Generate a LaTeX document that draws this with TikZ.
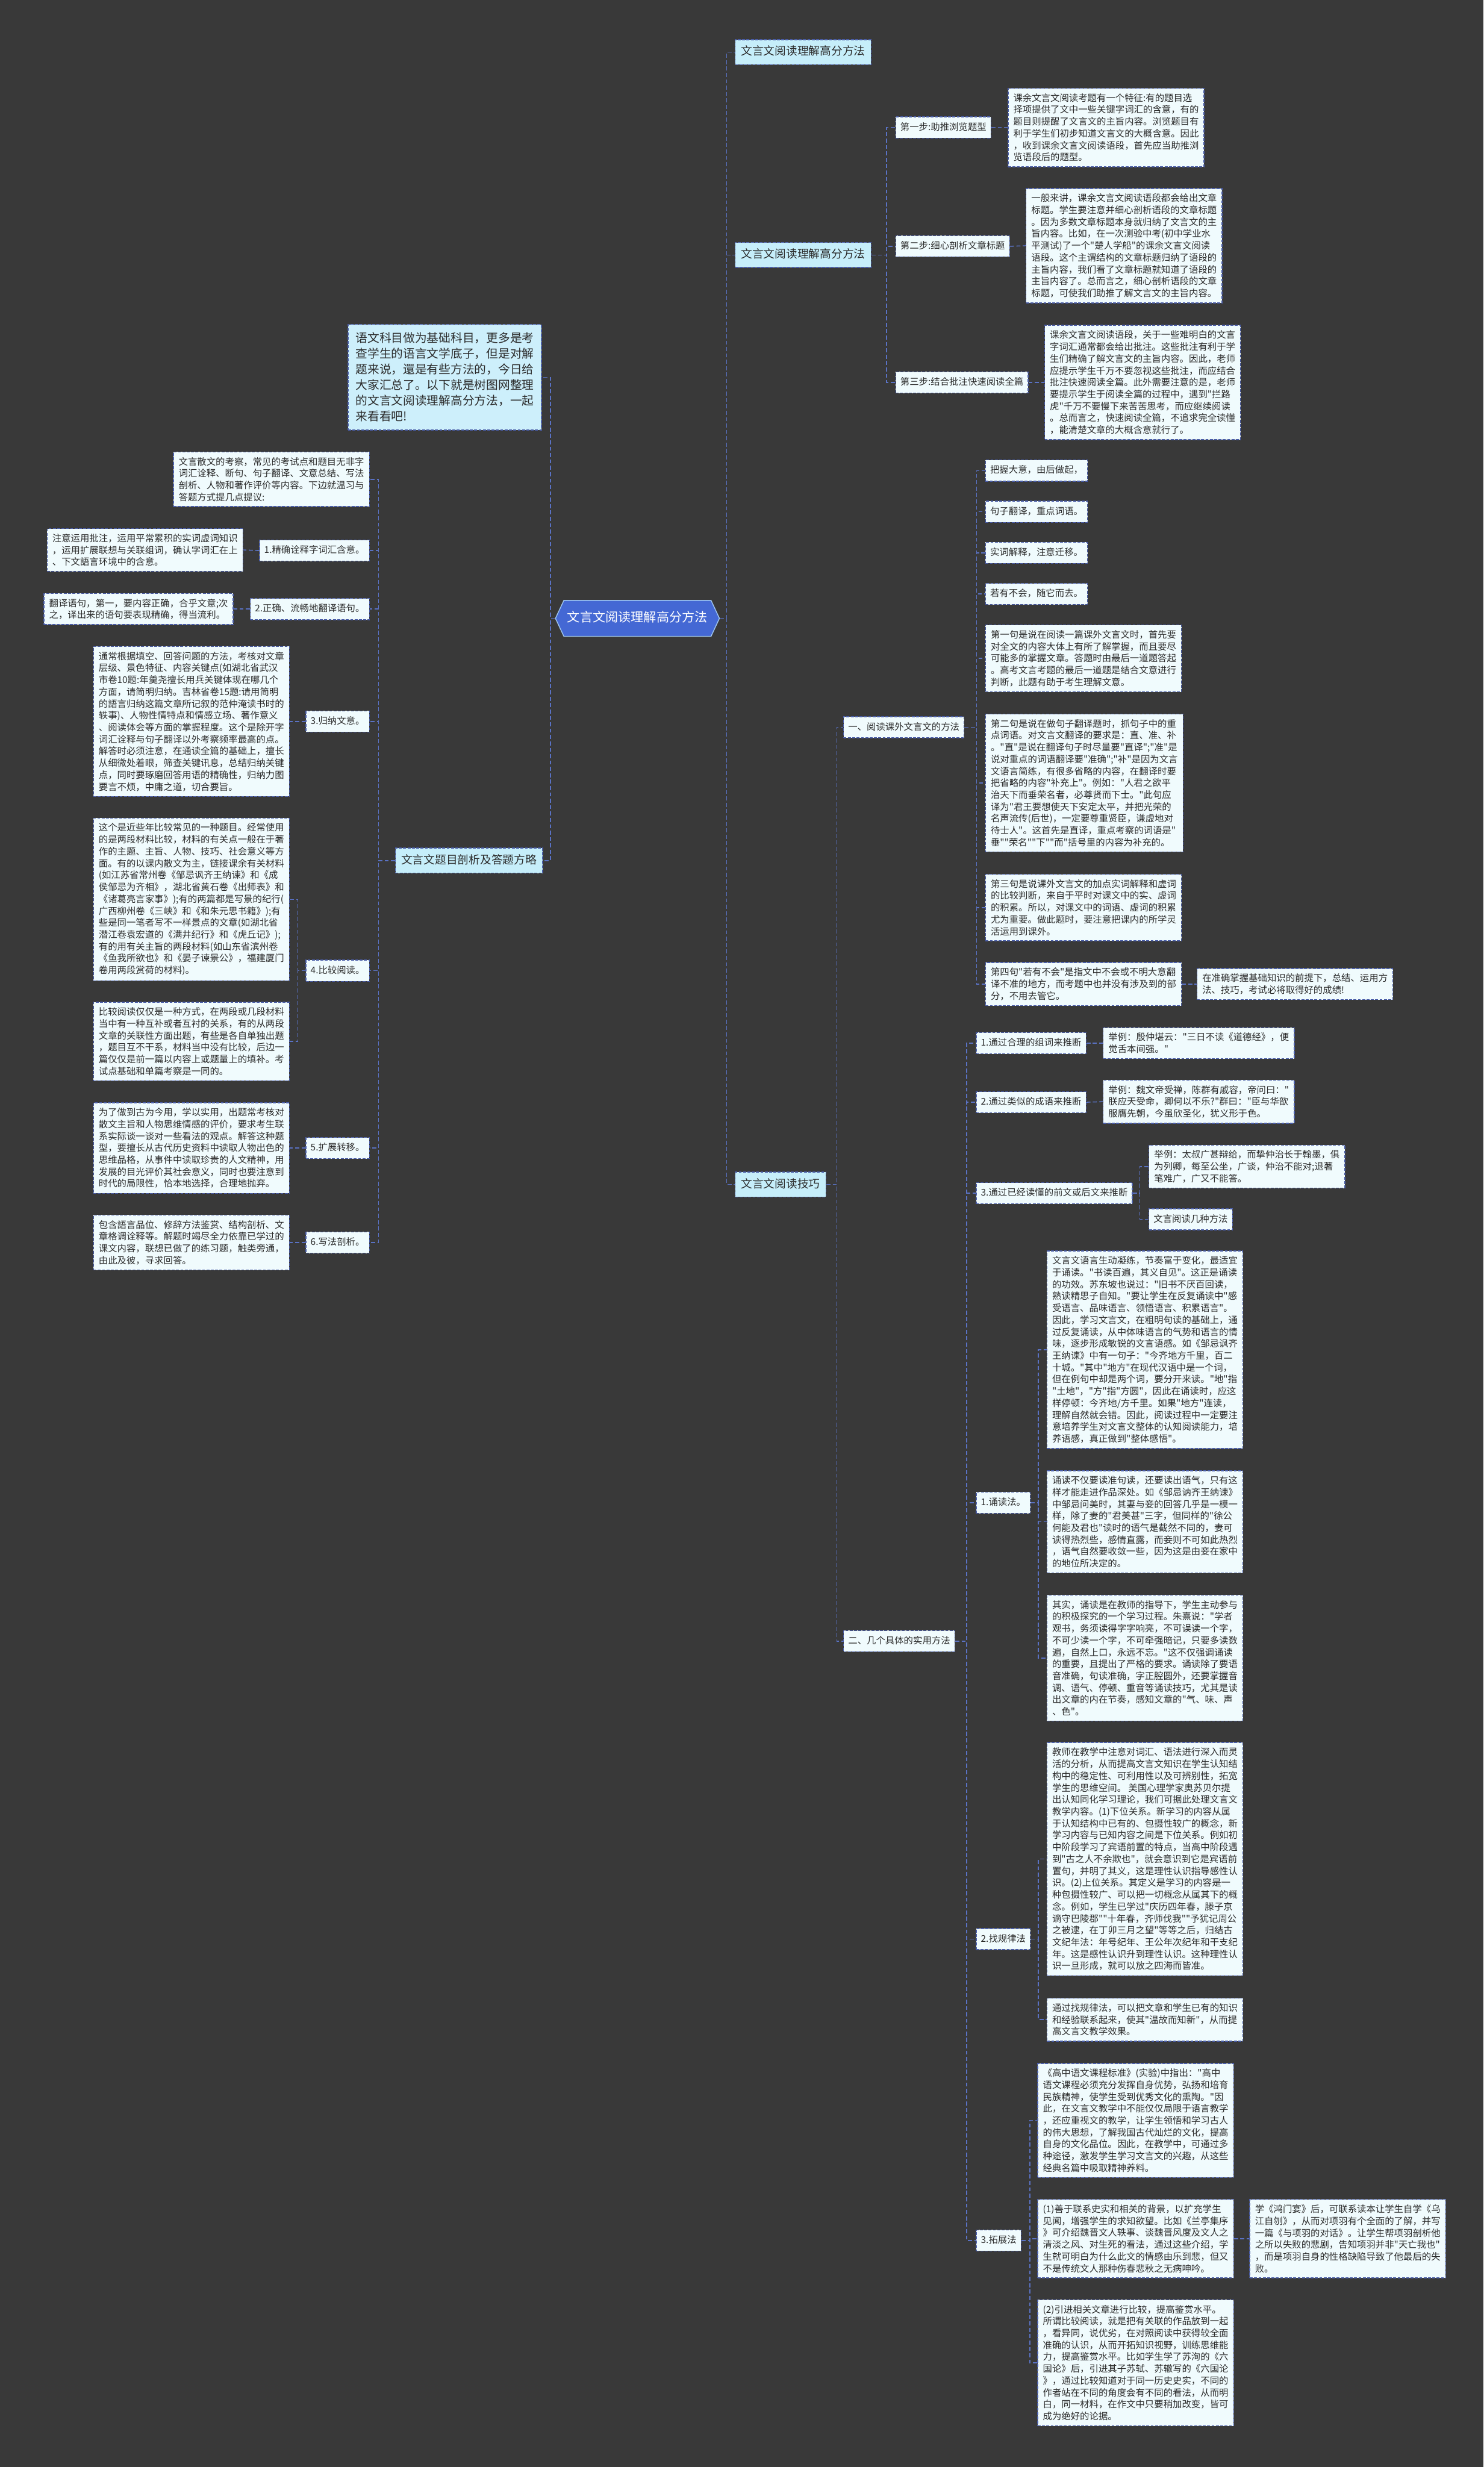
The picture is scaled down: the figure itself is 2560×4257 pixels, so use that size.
\documentclass[tikz,border=0pt]{standalone}
\usepackage{fontspec}
\setmainfont{Noto Sans CJK SC}[Ligatures=TeXOff]
\usetikzlibrary{shapes.symbols}
\definecolor{bgc}{HTML}{393939}
\definecolor{boxf}{HTML}{F0FBFD}
\definecolor{bordc}{HTML}{4A5DA8}
\definecolor{connc}{HTML}{5A72C4}
\definecolor{hdrf}{HTML}{C6EEFA}
\definecolor{introf}{HTML}{CDEFFB}
\definecolor{txt}{HTML}{2B2B2B}
\definecolor{cenf}{HTML}{4468D4}
\newcommand\elbowR[3]{\draw[conn] (#1.east) -- (#1.east -| #3) |- (#2.west);}
\newcommand\elbowL[3]{\draw[conn] (#1.west) -- (#1.west -| #3) |- (#2.east);}
\tikzset{
  tbox/.style={draw=bordc, fill=boxf, line width=1.4pt, dash pattern=on 5pt off 2.5pt,
    inner xsep=9pt, inner ysep=9pt, align=left, font=\fontsize{16}{20.5}\selectfont, text=txt},
  lbl/.style={tbox, inner xsep=8pt, inner ysep=10pt, text height=13pt, text depth=3.5pt},
  hdr/.style={draw=bordc, fill=hdrf, line width=1.4pt, dash pattern=on 5pt off 2.5pt,
    inner xsep=10pt, inner ysep=12pt, font=\fontsize{19.5}{24}\selectfont, text=txt,
    text height=15pt, text depth=4pt},
  intro/.style={draw=bordc, fill=introf, line width=1.4pt, dash pattern=on 5pt off 2.5pt,
    inner xsep=13pt, inner ysep=14pt, align=left, font=\fontsize{20.5}{27}\selectfont, text=txt},
  cen/.style={signal, signal to=west and east, signal pointer angle=130, draw=hdrf!70!cenf,
    line width=1.5pt, fill=cenf, text=white, font=\fontsize{22}{26}\selectfont,
    inner xsep=6pt, inner ysep=20pt, text height=17pt, text depth=5pt},
  conn/.style={draw=connc, line width=1.6pt, dash pattern=on 7pt off 4pt},
  R/.style={anchor=west}, L/.style={anchor=east}
}
\begin{document}
\begin{tikzpicture}[x=1pt,y=-1pt]
\fill[bgc] (0,0) rectangle (2560,4257);
\useasboundingbox (0,0) rectangle (2560,4257);

% trunk coordinates
\coordinate (tR) at (1254,0);
\coordinate (tH2) at (1530,0);
\coordinate (tH3) at (1444,0);
\coordinate (tA) at (1685,0);
\coordinate (tB) at (1668,0);
\coordinate (tB3) at (1967,0);
\coordinate (tB4) at (1792,0);
\coordinate (tB6) at (1777,0);
\coordinate (tL) at (950,0);
\coordinate (tLH) at (653,0);
\coordinate (tL4) at (514,0);

% center
\node[cen] (c) at (1100,1067) {文言文阅读理解高分方法};

% right headers
\node[hdr,R] (h1) at (1268,90) {文言文阅读理解高分方法};
\node[hdr,R] (h2) at (1268,440) {文言文阅读理解高分方法};
\node[hdr,R] (h3) at (1268,2044) {文言文阅读技巧};

% steps
\node[lbl,R] (s1) at (1545,220) {第一步:助推浏览题型};
\node[tbox,R] (s1t) at (1739,220) {课余文言文阅读考题有一个特征:有的题目选\\择项提供了文中一些关键字词汇的含意，有的\\题目则提醒了文言文的主旨内容。浏览题目有\\利于学生们初步知道文言文的大概含意。因此\\，收到课余文言文阅读语段，首先应当助推浏\\览语段后的题型。};
\node[lbl,R] (s2) at (1545,425) {第二步:细心剖析文章标题};
\node[tbox,R] (s2t) at (1770,424) {一般来讲，课余文言文阅读语段都会给出文章\\标题。学生要注意并细心剖析语段的文章标题\\。因为多数文章标题本身就归纳了文言文的主\\旨内容。比如，在一次测验中考(初中学业水\\平测试)了一个"楚人学船"的课余文言文阅读\\语段。这个主谓结构的文章标题归纳了语段的\\主旨内容，我们看了文章标题就知道了语段的\\主旨内容了。总而言之，细心剖析语段的文章\\标题，可使我们助推了解文言文的主旨内容。};
\node[lbl,R] (s3) at (1545,660) {第三步:结合批注快速阅读全篇};
\node[tbox,R] (s3t) at (1802,660) {课余文言文阅读语段，关于一些难明白的文言\\字词汇通常都会给出批注。这些批注有利于学\\生们精确了解文言文的主旨内容。因此，老师\\应提示学生千万不要忽视这些批注，而应结合\\批注快速阅读全篇。此外需要注意的是，老师\\要提示学生于阅读全篇的过程中，遇到"拦路\\虎"千万不要慢下来苦苦思考，而应继续阅读\\。总而言之，快速阅读全篇，不追求完全读懂\\，能清楚文章的大概含意就行了。};

% section one
\node[lbl,R] (a) at (1455,1255) {一、阅读课外文言文的方法};
\node[lbl,R] (a1) at (1700,812) {把握大意，由后做起，};
\node[lbl,R] (a2) at (1700,883) {句子翻译，重点词语。};
\node[lbl,R] (a3) at (1700,954) {实词解释，注意迁移。};
\node[lbl,R] (a4) at (1700,1025) {若有不会，随它而去。};
\node[tbox,R] (a5) at (1700,1136) {第一句是说在阅读一篇课外文言文时，首先要\\对全文的内容大体上有所了解掌握，而且要尽\\可能多的掌握文章。答题时由最后一道题答起\\。高考文言考题的最后一道题是结合文意进行\\判断，此题有助于考生理解文意。};
\node[tbox,R] (a6) at (1700,1351) {第二句是说在做句子翻译题时，抓句子中的重\\点词语。对文言文翻译的要求是：直、准、补\\。"直"是说在翻译句子时尽量要"直译";"准"是\\说对重点的词语翻译要"准确";"补"是因为文言\\文语言简练，有很多省略的内容，在翻译时要\\把省略的内容"补充上"。例如："人君之欲平\\治天下而垂荣名者，必尊贤而下士。"此句应\\译为"君王要想使天下安定太平，并把光荣的\\名声流传(后世)，一定要尊重贤臣，谦虚地对\\待士人"。这首先是直译，重点考察的词语是"\\垂""荣名""下""而"括号里的内容为补充的。};
\node[tbox,R] (a7) at (1700,1566) {第三句是说课外文言文的加点实词解释和虚词\\的比较判断，来自于平时对课文中的实、虚词\\的积累。所以，对课文中的词语、虚词的积累\\尤为重要。做此题时，要注意把课内的所学灵\\活运用到课外。};
\node[tbox,R] (a8) at (1700,1698) {第四句"若有不会"是指文中不会或不明大意翻\\译不准的地方，而考题中也并没有涉及到的部\\分，不用去管它。};
\node[tbox,R] (a9) at (2065,1698) {在准确掌握基础知识的前提下，总结、运用方\\法、技巧，考试必将取得好的成绩!};

% section two
\node[lbl,R] (b) at (1455,2832) {二、几个具体的实用方法};
\node[lbl,R] (b1) at (1684,1800) {1.通过合理的组词来推断};
\node[tbox,R] (b1x) at (1903,1800) {举例：殷仲堪云："三日不读《道德经》，便\\觉舌本间强。"};
\node[lbl,R] (b2) at (1684,1902) {2.通过类似的成语来推断};
\node[tbox,R] (b2x) at (1903,1901) {举例：魏文帝受禅，陈群有戚容，帝问曰："\\朕应天受命，卿何以不乐?"群曰："臣与华歆\\服膺先朝，今虽欣圣化，犹义形于色。};
\node[lbl,R] (b3) at (1684,2059) {3.通过已经读懂的前文或后文来推断};
\node[tbox,R] (b3x) at (1982,2013) {举例：太叔广甚辩给，而挚仲治长于翰墨，俱\\为列卿，每至公坐，广谈，仲治不能对;退著\\笔难广，广又不能答。};
\node[lbl,R] (b3y) at (1982,2104) {文言阅读几种方法};

\node[lbl,R] (b4) at (1684,2593) {1.诵读法。};
\node[tbox,R] (b4a) at (1806,2329) {文言文语言生动凝练，节奏富于变化，最适宜\\于诵读。"书读百遍，其义自见"。这正是诵读\\的功效。苏东坡也说过："旧书不厌百回读，\\熟读精思子自知。"要让学生在反复诵读中"感\\受语言、品味语言、领悟语言、积累语言"。\\因此，学习文言文，在粗明句读的基础上，通\\过反复诵读，从中体味语言的气势和语言的情\\味，逐步形成敏锐的文言语感。如《邹忌讽齐\\王纳谏》中有一句子："今齐地方千里，百二\\十城。"其中"地方"在现代汉语中是一个词，\\但在例句中却是两个词，要分开来读。"地"指\\"土地"，"方"指"方圆"，因此在诵读时，应这\\样停顿：今齐地/方千里。如果"地方"连读，\\理解自然就会错。因此，阅读过程中一定要注\\意培养学生对文言文整体的认知阅读能力，培\\养语感，真正做到"整体感悟"。};
\node[tbox,R] (b4b) at (1806,2626) {诵读不仅要读准句读，还要读出语气，只有这\\样才能走进作品深处。如《邹忌讷齐王纳谏》\\中邹忌问美时，其妻与妾的回答几乎是一模一\\样，除了妻的"君美甚"三字，但同样的"徐公\\何能及君也"读时的语气是截然不同的，妻可\\读得热烈些，感情直露，而妾则不可如此热烈\\，语气自然要收敛一些，因为这是由妾在家中\\的地位所决定的。};
\node[tbox,R] (b4c) at (1806,2861) {其实，诵读是在教师的指导下，学生主动参与\\的积极探究的一个学习过程。朱熹说："学者\\观书，务须读得字字响亮，不可误读一个字，\\不可少读一个字，不可牵强暗记，只要多读数\\遍，自然上口，永远不忘。"这不仅强调诵读\\的重要，且提出了严格的要求。诵读除了要语\\音准确，句读准确，字正腔圆外，还要掌握音\\调、语气、停顿、重音等诵读技巧，尤其是读\\出文章的内在节奏，感知文章的"气、味、声\\、色"。};

\node[lbl,R] (b5) at (1684,3346) {2.找规律法};
\node[tbox,R] (b5a) at (1806,3208) {教师在教学中注意对词汇、语法进行深入而灵\\活的分析，从而提高文言文知识在学生认知结\\构中的稳定性、可利用性以及可辨别性，拓宽\\学生的思维空间。 美国心理学家奥苏贝尔提\\出认知同化学习理论，我们可据此处理文言文\\教学内容。(1)下位关系。新学习的内容从属\\于认知结构中已有的、包摄性较广的概念，新\\学习内容与已知内容之间是下位关系。例如初\\中阶段学习了宾语前置的特点，当高中阶段遇\\到"古之人不余欺也"，就会意识到它是宾语前\\置句，并明了其义，这是理性认识指导感性认\\识。(2)上位关系。其定义是学习的内容是一\\种包摄性较广、可以把一切概念从属其下的概\\念。例如，学生已学过"庆历四年春，滕子京\\谪守巴陵郡""十年春，齐师伐我""予犹记周公\\之被逮，在丁卯三月之望"等等之后，归结古\\文纪年法：年号纪年、王公年次纪年和干支纪\\年。这是感性认识升到理性认识。这种理性认\\识一旦形成，就可以放之四海而皆准。};
\node[tbox,R] (b5b) at (1806,3485) {通过找规律法，可以把文章和学生已有的知识\\和经验联系起来，使其"温故而知新"，从而提\\高文言文教学效果。};

\node[lbl,R] (b6) at (1684,3866) {3.拓展法};
\node[tbox,R] (b6a) at (1790,3659) {《高中语文课程标准》(实验)中指出："高中\\语文课程必须充分发挥自身优势，弘扬和培育\\民族精神，使学生受到优秀文化的熏陶。"因\\此，在文言文教学中不能仅仅局限于语言教学\\，还应重视文的教学，让学生领悟和学习古人\\的伟大思想，了解我国古代灿烂的文化，提高\\自身的文化品位。因此，在教学中，可通过多\\种途径，激发学生学习文言文的兴趣，从这些\\经典名篇中吸取精神养料。};
\node[tbox,R] (b6b) at (1790,3863) {(1)善于联系史实和相关的背景，以扩充学生\\见闻，增强学生的求知欲望。比如《兰亭集序\\》可介绍魏晋文人轶事、谈魏晋风度及文人之\\清淡之风、对生死的看法，通过这些介绍，学\\生就可明白为什么此文的情感由乐到悲，但又\\不是传统文人那种伤春悲秋之无病呻吟。};
\node[tbox,R] (b6d) at (2156,3863) {学《鸿门宴》后，可联系读本让学生自学《乌\\江自刎》，从而对项羽有个全面的了解，并写\\一篇《与项羽的对话》。让学生帮项羽剖析他\\之所以失败的悲剧，告知项羽并非"天亡我也"\\，而是项羽自身的性格缺陷导致了他最后的失\\败。};
\node[tbox,R] (b6c) at (1790,4077) {(2)引进相关文章进行比较，提高鉴赏水平。\\所谓比较阅读，就是把有关联的作品放到一起\\，看异同，说优劣，在对照阅读中获得较全面\\准确的认识，从而开拓知识视野，训练思维能\\力，提高鉴赏水平。比如学生学了苏洵的《六\\国论》后，引进其子苏轼、苏辙写的《六国论\\》，通过比较知道对于同一历史史实，不同的\\作者站在不同的角度会有不同的看法，从而明\\白，同一材料，在作文中只要稍加改变，皆可\\成为绝好的论据。};

% left side
\node[intro,L] (in) at (935,651) {语文科目做为基础科目，更多是考\\查学生的语言文学底子，但是对解\\题来说，還是有些方法的，今日给\\大家汇总了。以下就是树图网整理\\的文言文阅读理解高分方法，一起\\来看看吧!};
\node[hdr,L] (lh) at (937,1485) {文言文题目剖析及答题方略};
\node[tbox,L] (l0) at (638,827) {文言散文的考察，常见的考试点和题目无非字\\词汇诠释、断句、句子翻译、文意总结、写法\\剖析、人物和著作评价等内容。下边就温习与\\答题方式提几点提议:};
\node[lbl,L] (l1) at (638,950) {1.精确诠释字词汇含意。};
\node[tbox,L] (l1t) at (420,949) {注意运用批注，运用平常累积的实词虚词知识\\，运用扩展联想与关联组词，确认字词汇在上\\、下文語言环境中的含意。};
\node[lbl,L] (l2) at (638,1051) {2.正确、流畅地翻译语句。};
\node[tbox,L] (l2t) at (403,1051) {翻译语句，第一，要内容正确，合乎文意;次\\之，译出来的语句要表现精确，得当流利。};
\node[lbl,L] (l3) at (638,1245) {3.归纳文意。};
\node[tbox,L] (l3t) at (500,1245) {通常根据填空、回答问题的方法，考核对文章\\层级、景色特征、内容关键点(如湖北省武汉\\市卷10题:年羹尧擅长用兵关键体现在哪几个\\方面，请简明归纳。吉林省卷15题:请用简明\\的語言归纳这篇文章所记叙的范仲淹读书时的\\轶事)、人物性情特点和情感立场、著作意义\\、阅读体会等方面的掌握程度。这个是除开字\\词汇诠释与句子翻译以外考察频率最高的点。\\解答时必须注意，在通读全篇的基础上，擅长\\从细微处着眼，筛查关键讯息，总结归纳关键\\点，同时要琢磨回答用语的精确性，归纳力图\\要言不烦，中庸之道，切合要旨。};
\node[lbl,L] (l4) at (638,1675) {4.比较阅读。};
\node[tbox,L] (l4a) at (500,1552) {这个是近些年比较常见的一种题目。经常使用\\的是两段材料比较，材料的有关点一般在于著\\作的主题、主旨、人物、技巧、社会意义等方\\面。有的以课内散文为主，链接课余有关材料\\(如江苏省常州卷《邹忌讽齐王纳谏》和《成\\侯邹忌为齐相》，湖北省黄石卷《出师表》和\\《诸葛亮言家事》);有的两篇都是写景的纪行(\\广西柳州卷《三峡》和《和朱元思书籍》);有\\些是同一笔者写不一样景点的文章(如湖北省\\潜江卷袁宏道的《满井纪行》和《虎丘记》);\\有的用有关主旨的两段材料(如山东省滨州卷\\《鱼我所欲也》和《晏子谏景公》，福建厦门\\卷用两段赏荷的材料)。};
\node[tbox,L] (l4b) at (500,1797) {比较阅读仅仅是一种方式，在两段或几段材料\\当中有一种互补或者互衬的关系，有的从两段\\文章的关联性方面出题，有些是各自单独出题\\，题目互不干系，材料当中没有比较，后边一\\篇仅仅是前一篇以内容上或题量上的填补。考\\试点基础和单篇考察是一同的。};
\node[lbl,L] (l5) at (638,1981) {5.扩展转移。};
\node[tbox,L] (l5t) at (500,1981) {为了做到古为今用，学以实用，出题常考核对\\散文主旨和人物思维情感的评价，要求考生联\\系实际谈一谈对一些看法的观点。解答这种题\\型，要擅长从古代历史资料中读取人物出色的\\思维品格，从事件中读取珍贵的人文精神，用\\发展的目光评价其社会意义，同时也要注意到\\时代的局限性，恰本地选择，合理地抛弃。};
\node[lbl,L] (l6) at (638,2144) {6.写法剖析。};
\node[tbox,L] (l6t) at (500,2144) {包含語言品位、修辞方法鉴赏、结构剖析、文\\章格调诠释等。解题时竭尽全力依靠已学过的\\课文内容，联想已做了的练习题，触类旁通，\\由此及彼，寻求回答。};

% connectors right
\elbowR{c}{h1}{tR} \elbowR{c}{h2}{tR} \elbowR{c}{h3}{tR}
\elbowR{h2}{s1}{tH2} \elbowR{h2}{s2}{tH2} \elbowR{h2}{s3}{tH2}
\draw[conn] (s1.east) -- (s1t.west);
\draw[conn] (s2.east) -- (s2t.west);
\draw[conn] (s3.east) -- (s3t.west);
\elbowR{h3}{a}{tH3} \elbowR{h3}{b}{tH3}
\foreach \n in {a1,a2,a3,a4,a5,a6,a7,a8} {\elbowR{a}{\n}{tA}}
\draw[conn] (a8.east) -- (a9.west);
\foreach \n in {b1,b2,b3,b4,b5,b6} {\elbowR{b}{\n}{tB}}
\draw[conn] (b1.east) -- (b1x.west);
\draw[conn] (b2.east) -- (b2x.west);
\elbowR{b3}{b3x}{tB3} \elbowR{b3}{b3y}{tB3}
\foreach \n in {b4a,b4b,b4c} {\elbowR{b4}{\n}{tB4}}
\foreach \n in {b5a,b5b} {\elbowR{b5}{\n}{tB4}}
\foreach \n in {b6a,b6b,b6c} {\elbowR{b6}{\n}{tB6}}
\draw[conn] (b6b.east) -- (b6d.west);

% connectors left
\elbowL{c}{in}{tL} \elbowL{c}{lh}{tL}
\foreach \n in {l0,l1,l2,l3,l4,l5,l6} {\elbowL{lh}{\n}{tLH}}
\draw[conn] (l1.west) -- (l1t.east);
\draw[conn] (l2.west) -- (l2t.east);
\draw[conn] (l3.west) -- (l3t.east);
\elbowL{l4}{l4a}{tL4} \elbowL{l4}{l4b}{tL4}
\draw[conn] (l5.west) -- (l5t.east);
\draw[conn] (l6.west) -- (l6t.east);
\end{tikzpicture}
\end{document}
